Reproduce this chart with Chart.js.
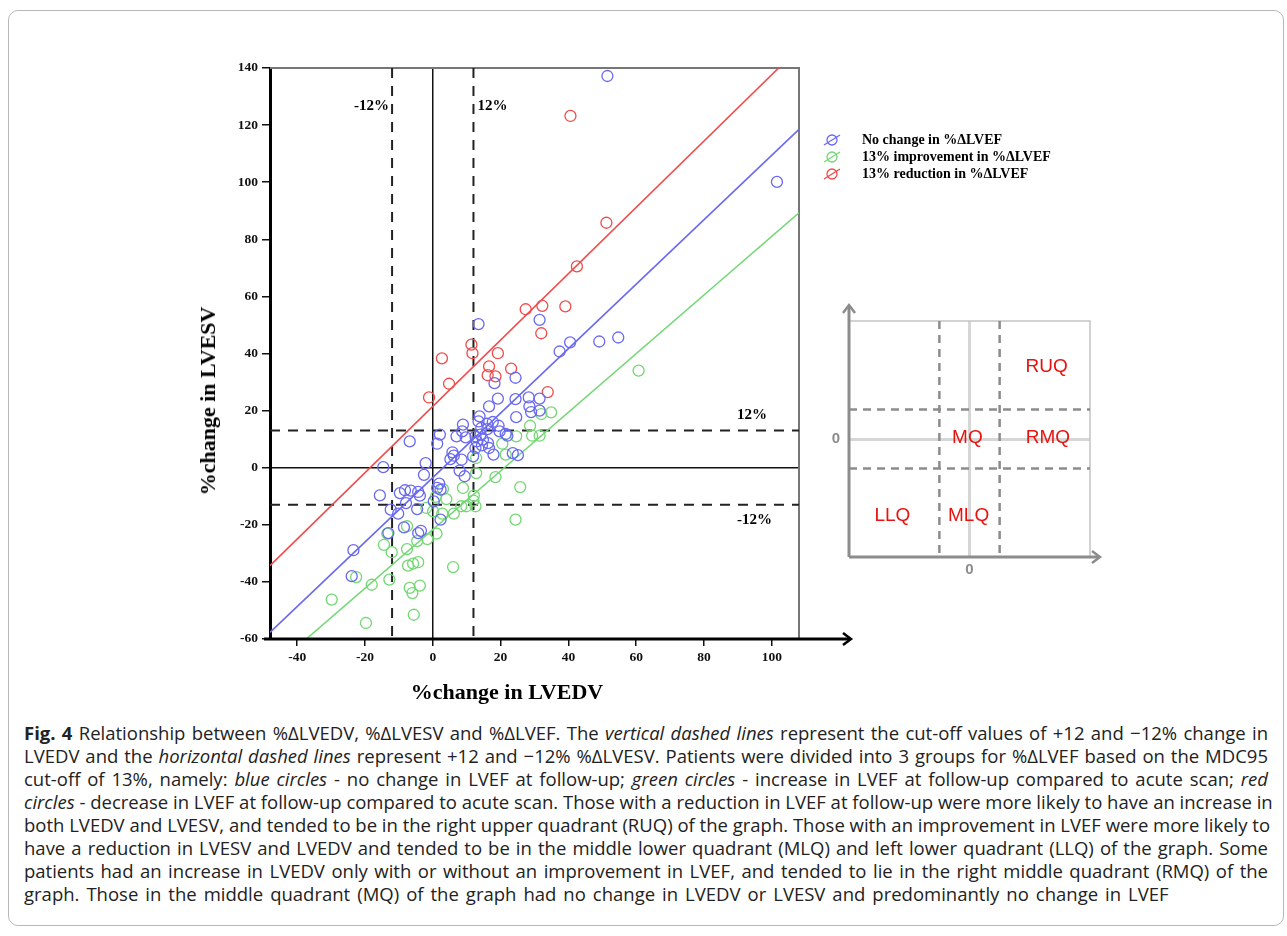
<!DOCTYPE html>
<html>
<head>
<meta charset="utf-8">
<script src="https://cdn.jsdelivr.net/npm/chart.js@4.4.1/dist/chart.umd.min.js"></script>
<style>
  body { margin: 0; background: #fff; width: 1287px; height: 936px; position: relative; overflow: hidden; }
  #frame { position: absolute; left: 8px; top: 10px; width: 1274px; height: 914px; border: 1px solid #b8b8b8; border-radius: 10px; }
  #main { position: absolute; left: 0; top: 0; }
  #inset { position: absolute; left: 800px; top: 290px; }
  .axis-title { position: absolute; font: bold 22px "Liberation Serif", "Times New Roman", serif; color: #000; white-space: nowrap; }
  #ytitle { left: 208px; top: 401px; transform: translate(-50%, -50%) rotate(-90deg); }
  #xtitle { left: 507px; top: 692px; transform: translate(-50%, -50%); }
  #caption { position: absolute; left: 24px; top: 721px; width: 1244px; font: 18.5px "Open Sans", sans-serif; line-height: 23px; color: #222; }
  #caption div { white-space: nowrap; text-align: justify; text-align-last: justify; }
  #caption div.last { text-align: left; text-align-last: left; word-spacing: 2.2px; }
  #caption b { font-weight: 700; }
</style>
</head>
<body>
<div id="frame"></div>
<canvas id="main" width="1287" height="720"></canvas>
<canvas id="inset" width="320" height="300"></canvas>
<div class="axis-title" id="ytitle">%change in LVESV</div>
<div class="axis-title" id="xtitle">%change in LVEDV</div>
<div id="caption">
<div><b>Fig. 4</b> Relationship between %ΔLVEDV, %ΔLVESV and %ΔLVEF. The <i>vertical dashed lines</i> represent the cut-off values of +12 and −12% change in</div>
<div>LVEDV and the <i>horizontal dashed lines</i> represent +12 and −12% %ΔLVESV. Patients were divided into 3 groups for %ΔLVEF based on the MDC95</div>
<div>cut-off of 13%, namely: <i>blue circles</i> - no change in LVEF at follow-up; <i>green circles</i> - increase in LVEF at follow-up compared to acute scan; <i>red</i></div>
<div><i>circles</i> - decrease in LVEF at follow-up compared to acute scan. Those with a reduction in LVEF at follow-up were more likely to have an increase in</div>
<div>both LVEDV and LVESV, and tended to be in the right upper quadrant (RUQ) of the graph. Those with an improvement in LVEF were more likely to</div>
<div>have a reduction in LVESV and LVEDV and tended to be in the middle lower quadrant (MLQ) and left lower quadrant (LLQ) of the graph. Some</div>
<div>patients had an increase in LVEDV only with or without an improvement in LVEF, and tended to lie in the right middle quadrant (RMQ) of the</div>
<div class="last">graph. Those in the middle quadrant (MQ) of the graph had no change in LVEDV or LVESV and predominantly no change in LVEF</div>
</div>

<script>
// %change in LVEDV (x) vs %change in LVESV (y), one array per LVEF group
const noChange = [
  [51.5,137.2],[101.5,100.1],[54.7,45.6],[49.1,44.2],[40.5,43.9],[37.4,40.7],[31.5,51.8],[13.5,50.3],
  [24.4,31.5],[18.2,29.6],[19.2,24.2],[16.6,21.5],[24.4,24.0],[28.3,24.6],[31.5,24.2],[28.5,21.5],
  [29.0,19.5],[31.5,20.0],[24.6,17.7],[13.8,18.0],[13.5,16.2],[16.0,15.4],[17.7,16.0],[19.4,14.7],
  [14.3,13.9],[16.1,13.5],[19.7,12.7],[21.5,11.8],[22.0,11.2],[8.9,15.1],[8.7,12.7],[7.0,11.0],
  [9.7,10.6],[12.6,11.0],[14.1,11.6],[14.8,9.8],[13.0,9.2],[14.5,7.8],[16.3,8.6],[16.6,6.9],
  [12.6,6.9],[17.9,4.6],[23.6,5.1],[25.1,4.4],[2.1,11.6],[1.3,8.4],[-6.8,9.2],[5.8,5.4],
  [6.2,4.2],[8.5,2.8],[5.2,3.0],[-2.1,1.6],[11.9,4.0],[-14.6,0.2],[-2.6,-2.5],[1.9,-5.6],
  [7.9,-1.0],[9.4,-3.0],[-15.6,-9.7],[-9.7,-8.9],[-8.2,-7.9],[-6.5,-8.0],[-4.3,-8.5],[-3.8,-9.8],
  [1.3,-7.1],[2.3,-7.7],[0.3,-11.8],[-7.9,-12.4],[-12.4,-14.7],[-10.2,-16.1],[-4.6,-14.5],[-8.5,-20.9],
  [-13.1,-22.9],[-4.3,-22.9],[-3.5,-22.1],[2.3,-18.2],[-23.4,-28.9],[-23.9,-38.0]
];
const improved = [
  [60.7,34.0],[34.9,19.4],[32.0,18.8],[28.7,14.7],[24.6,11.0],[29.3,11.2],[31.5,11.2],[20.5,8.4],
  [21.5,4.6],[12.8,3.4],[3.0,-7.5],[4.0,-11.0],[8.9,-7.1],[12.1,-9.8],[12.8,-1.9],[18.5,-3.3],
  [25.8,-6.8],[24.4,-18.2],[-1.9,-14.1],[0.1,-15.3],[2.8,-16.1],[6.2,-16.1],[8.4,-13.5],[9.9,-13.5],
  [12.6,-13.5],[1.1,-23.1],[-1.6,-25.0],[-4.6,-25.7],[-7.6,-28.5],[-7.6,-20.5],[-13.4,-23.1],[-14.4,-27.0],
  [-12.1,-29.6],[-7.3,-34.3],[-5.8,-33.6],[-4.3,-33.1],[6.0,-34.8],[-6.8,-42.1],[-6.0,-43.9],[-3.8,-41.3],
  [-18.0,-41.0],[-22.6,-38.3],[-29.8,-46.2],[-5.6,-51.5],[-19.7,-54.4],[-12.8,-39.2],[0.9,-10.2],[12.0,-11.5]
];
const reduced = [
  [40.6,123.2],[51.2,85.8],[42.5,70.5],[27.4,55.5],[32.3,56.7],[39.1,56.5],[32.0,47.1],[11.4,43.1],
  [11.7,40.1],[2.7,38.3],[19.2,40.1],[4.8,29.4],[-1.1,24.6],[16.6,35.5],[16.2,32.4],[18.5,32.0],
  [23.1,34.7],[33.9,26.5]
];

// fit line end points for each group
const noChangeFit = [[-48,-57.7],[108,118.5]];
const improvedFit = [[-37.3,-60],[108,89.3]];
const reducedFit = [[-48,-34.3],[102,140]];

const xTicks = [-40, -20, 0, 20, 40, 60, 80, 100];
const yTicks = [-60, -40, -20, 0, 20, 40, 60, 80, 100, 120, 140];
const cutEDV = [-12, 12];
const cutESV = [-13, 13];

const blue = 'rgb(105,105,240)';
const green = 'rgb(115,215,115)';
const red = 'rgb(240,75,75)';

const pts = arr => arr.map(p => ({ x: p[0], y: p[1] }));

function groupSet(label, arr, color) {
  return {
    label: label, data: pts(arr), borderColor: color, backgroundColor: 'rgba(0,0,0,0)',
    pointRadius: 5.5, pointHoverRadius: 5.5, borderWidth: 1.3, showLine: false, order: 1
  };
}
function fitSet(arr, color) {
  return {
    label: '', fitLine: true, data: pts(arr), borderColor: color, borderWidth: 1.6,
    pointRadius: 0, showLine: true, order: 2
  };
}

function arrowHead(ctx, x, y, dir) {
  // open chevron pointing right (dir 'r') or up (dir 'u')
  ctx.beginPath();
  if (dir === 'r') { ctx.moveTo(x - 8, y - 6); ctx.lineTo(x, y); ctx.lineTo(x - 8, y + 6); }
  else { ctx.moveTo(x - 6, y + 8); ctx.lineTo(x, y); ctx.lineTo(x + 6, y + 8); }
  ctx.stroke();
}

const mainExtras = {
  id: 'mainExtras',
  beforeDatasetsDraw(chart) {
    const { ctx, chartArea: a, scales: { x, y } } = chart;
    ctx.save();
    // top and right frame
    ctx.strokeStyle = '#777';
    ctx.lineWidth = 2;
    ctx.beginPath();
    ctx.moveTo(a.left, a.top); ctx.lineTo(a.right, a.top); ctx.lineTo(a.right, a.bottom);
    ctx.stroke();
    // cut-off lines
    ctx.strokeStyle = '#222';
    ctx.lineWidth = 2;
    ctx.setLineDash([10, 8]);
    cutEDV.forEach(v => {
      const px = x.getPixelForValue(v);
      ctx.beginPath(); ctx.moveTo(px, a.top); ctx.lineTo(px, a.bottom); ctx.stroke();
    });
    cutESV.forEach(v => {
      const py = y.getPixelForValue(v);
      ctx.beginPath(); ctx.moveTo(a.left, py); ctx.lineTo(a.right, py); ctx.stroke();
    });
    ctx.restore();
  },
  afterDraw(chart) {
    const { ctx, chartArea: a, scales: { x, y } } = chart;
    ctx.save();
    // x axis with arrow
    ctx.strokeStyle = '#000';
    ctx.lineWidth = 3;
    ctx.beginPath(); ctx.moveTo(a.left - 6, a.bottom); ctx.lineTo(a.right + 50, a.bottom); ctx.stroke();
    ctx.lineWidth = 2.5;
    arrowHead(ctx, a.right + 52, a.bottom, 'r');

    // cut-off labels
    ctx.fillStyle = '#000';
    ctx.font = 'bold 15px "Liberation Serif", serif';
    ctx.textBaseline = 'middle';
    const labY = a.top + 38;
    ctx.textAlign = 'right';
    ctx.fillText(cutEDV[0] + '%', x.getPixelForValue(cutEDV[0]) - 3, labY);
    ctx.textAlign = 'left';
    ctx.fillText(cutEDV[1] + '%', x.getPixelForValue(cutEDV[1]) + 4, labY);
    ctx.fillText('12%', a.right - 62, y.getPixelForValue(cutESV[1]) - 15);
    ctx.fillText('-12%', a.right - 62, y.getPixelForValue(cutESV[0]) + 15);

    // legend
    const groups = chart.data.datasets.filter(d => !d.fitLine);
    ctx.font = 'bold 14px "Liberation Serif", serif';
    groups.forEach((d, i) => {
      const cy = 140 + i * 17, cx = 832;
      ctx.strokeStyle = d.borderColor;
      ctx.lineWidth = 1.3;
      ctx.beginPath(); ctx.arc(cx, cy, 5, 0, Math.PI * 2); ctx.stroke();
      ctx.beginPath(); ctx.moveTo(cx - 8, cy + 5); ctx.lineTo(cx + 8, cy - 5); ctx.stroke();
      ctx.fillStyle = '#000';
      ctx.textAlign = 'left';
      ctx.fillText(d.label, 862, cy);
    });
    ctx.restore();
  }
};

const tickFont = { family: '"Liberation Serif", serif', weight: 'bold', size: 13.5 };
const zeroLine = c => (c.tick && c.tick.value === 0 ? '#111' : 'rgba(0,0,0,0)');

new Chart(document.getElementById('main'), {
  type: 'scatter',
  data: {
    datasets: [
      groupSet('No change in %ΔLVEF', noChange, blue),
      groupSet('13% improvement in %ΔLVEF', improved, green),
      groupSet('13% reduction in %ΔLVEF', reduced, red),
      fitSet(reducedFit, red),
      fitSet(noChangeFit, blue),
      fitSet(improvedFit, green)
    ]
  },
  options: {
    responsive: false,
    animation: false,
    devicePixelRatio: 1,
    layout: { padding: { top: 68, right: 488, left: 0, bottom: 0 } },
    plugins: { legend: { display: false }, tooltip: { enabled: false } },
    scales: {
      x: {
        type: 'linear', min: -48, max: 108,
        afterBuildTicks: s => { s.ticks = xTicks.map(v => ({ value: v })); },
        afterFit: s => { s.height = 81; },
        grid: { color: zeroLine, tickColor: '#111', lineWidth: 1.5, tickLength: 7 },
        border: { display: false },
        ticks: { font: tickFont, color: '#111', padding: 3, maxRotation: 0 }
      },
      y: {
        type: 'linear', min: -60, max: 140,
        afterBuildTicks: s => { s.ticks = yTicks.map(v => ({ value: v })); },
        afterFit: s => { s.width = 270; },
        grid: { color: zeroLine, tickColor: '#111', lineWidth: 1.5, tickLength: 8 },
        border: { display: true, color: '#000', width: 3 },
        ticks: { font: tickFont, color: '#111', padding: 4 }
      }
    }
  },
  plugins: [mainExtras]
});

// quadrant key
const keyCuts = [-1, 1];
const keyRegions = ['RUQ', 'MQ', 'RMQ', 'LLQ', 'MLQ'];

const keyExtras = {
  id: 'keyExtras',
  beforeDatasetsDraw(chart) {
    const { ctx, chartArea: a, scales: { x, y } } = chart;
    ctx.save();
    ctx.strokeStyle = '#c4c4c4';
    ctx.lineWidth = 1.5;
    ctx.beginPath();
    ctx.moveTo(a.left, a.top); ctx.lineTo(a.right, a.top); ctx.lineTo(a.right, a.bottom);
    ctx.stroke();
    ctx.strokeStyle = '#8c8c8c';
    ctx.lineWidth = 2.5;
    ctx.setLineDash([8, 6]);
    keyCuts.forEach(v => {
      const px = x.getPixelForValue(v), py = y.getPixelForValue(v);
      ctx.beginPath(); ctx.moveTo(px, a.top); ctx.lineTo(px, a.bottom); ctx.stroke();
      ctx.beginPath(); ctx.moveTo(a.left, py); ctx.lineTo(a.right, py); ctx.stroke();
    });
    ctx.restore();
  },
  afterDraw(chart, args, opts) {
    const { ctx, chartArea: a, scales: { x, y } } = chart;
    ctx.save();
    ctx.strokeStyle = '#8c8c8c';
    ctx.lineWidth = 3;
    ctx.beginPath(); ctx.moveTo(a.left, a.bottom); ctx.lineTo(a.right + 8, a.bottom); ctx.stroke();
    ctx.beginPath(); ctx.moveTo(a.left, a.bottom); ctx.lineTo(a.left, a.top - 14); ctx.stroke();
    ctx.lineWidth = 2.5;
    arrowHead(ctx, a.right + 10, a.bottom, 'r');
    arrowHead(ctx, a.left, a.top - 16, 'u');
    ctx.fillStyle = '#e8130f';
    ctx.font = '19px "Liberation Sans", Arial, sans-serif';
    ctx.textAlign = 'center';
    ctx.textBaseline = 'middle';
    keyRegions.forEach(name => {
      const p = opts.at[name];
      ctx.fillText(name, x.getPixelForValue(p[0]), y.getPixelForValue(p[1]));
    });
    ctx.restore();
  }
};

const keyTick = { family: '"Liberation Sans", Arial, sans-serif', weight: 'bold', size: 15 };

new Chart(document.getElementById('inset'), {
  type: 'scatter',
  data: { datasets: [] },
  options: {
    responsive: false,
    animation: false,
    devicePixelRatio: 1,
    layout: { padding: { top: 31, right: 30, left: 0, bottom: 0 } },
    plugins: {
      legend: { display: false }, tooltip: { enabled: false },
      keyExtras: { at: { RUQ: [2.56, 2.44], MQ: [-0.07, 0.05], RMQ: [2.6, 0.05], LLQ: [-2.56, -2.6], MLQ: [-0.03, -2.6] } }
    },
    scales: {
      x: {
        type: 'linear', min: -4, max: 4,
        afterBuildTicks: s => { s.ticks = [{ value: 0 }]; },
        afterFit: s => { s.height = 33; },
        grid: { color: '#d6d6d6', lineWidth: 3, drawTicks: false },
        border: { display: false },
        ticks: { font: keyTick, color: '#8c8c8c', padding: 4 }
      },
      y: {
        type: 'linear', min: -4, max: 4,
        afterBuildTicks: s => { s.ticks = [{ value: 0 }]; },
        afterFit: s => { s.width = 49; },
        grid: { color: '#d6d6d6', lineWidth: 3, drawTicks: false },
        border: { display: false },
        ticks: { font: keyTick, color: '#8c8c8c', padding: 9 }
      }
    }
  },
  plugins: [keyExtras]
});
</script>
</body>
</html>
